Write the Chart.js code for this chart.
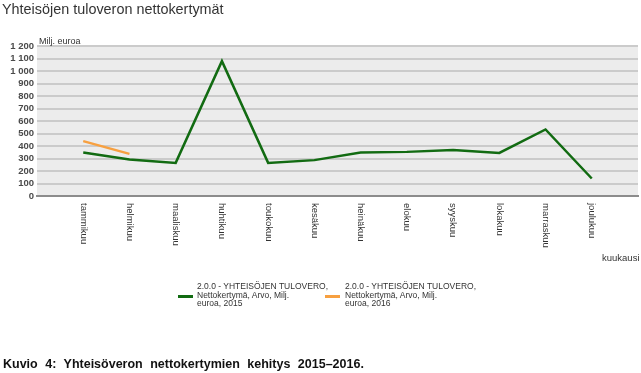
<!DOCTYPE html>
<html>
<head>
<meta charset="utf-8">
<script src="https://cdn.jsdelivr.net/npm/chart.js@4/dist/chart.umd.min.js"></script>
<style>
  html,body{margin:0;padding:0;background:#fff;width:641px;height:373px;overflow:hidden;font-family:"Liberation Sans",Arial,sans-serif;}
  #wrap{position:absolute;left:0;top:0;width:641px;height:373px;}
  #title{position:absolute;left:2px;top:1px;font-size:14.4px;color:#333;white-space:nowrap;}
  #caption{position:absolute;left:3px;top:357px;font-size:12.5px;font-weight:bold;color:#111;white-space:nowrap;word-spacing:4px;}
  #unit{position:absolute;left:39px;top:36px;font-size:9px;color:#333;white-space:nowrap;}
  #xtitle{position:absolute;left:602px;top:252px;font-size:9.5px;color:#333;white-space:nowrap;}
  .leg{position:absolute;top:282px;font-size:8.5px;line-height:8.6px;color:#333;white-space:nowrap;}
  .sym{position:absolute;height:3px;width:15px;top:295px;}
</style>
</head>
<body>
<div id="wrap">
  <canvas id="c" width="641" height="373"></canvas>
  <div id="title">Yhteisöjen tuloveron nettokertymät</div>
  <div id="unit">Milj. euroa</div>
  <div id="xtitle">kuukausi</div>
  <div class="sym" style="left:178px;background:#126b12;"></div>
  <div class="leg" id="leg1" style="left:197px;"></div>
  <div class="sym" style="left:325px;background:#f7a040;"></div>
  <div class="leg" id="leg2" style="left:345px;"></div>
  <div id="caption">Kuvio 4: Yhteisöveron nettokertymien kehitys 2015–2016.</div>
</div>
<script>
const months = ["tammikuu","helmikuu","maaliskuu","huhtikuu","toukokuu","kesäkuu","heinäkuu","elokuu","syyskuu","lokakuu","marraskuu","joulukuu"];
const values2015 = [348, 292, 265, 1079, 265, 287, 348, 353, 367, 345, 532, 140];
const values2016 = [439, 337];
const seriesNames = [
  ["2.0.0 - YHTEISÖJEN TULOVERO,","Nettokertymä, Arvo, Milj.","euroa, 2015"],
  ["2.0.0 - YHTEISÖJEN TULOVERO,","Nettokertymä, Arvo, Milj.","euroa, 2016"]
];
const yTicks = [0,100,200,300,400,500,600,700,800,900,1000,1100,1200];

document.getElementById('leg1').innerHTML = seriesNames[0].join('<br>');
document.getElementById('leg2').innerHTML = seriesNames[1].join('<br>');

// padded category axis: one empty slot before and after the months
const axisLabels = [""].concat(months, [""]);
const pad = arr => [null].concat(months.map((m,i)=> arr[i] === undefined ? null : arr[i]), [null]);

function fmt(v){ return String(v).replace(/\B(?=(\d{3})+(?!\d))/g, ' '); }

const bgPlugin = {
  id:'bg',
  beforeDraw(chart){
    const a = chart.chartArea, ctx = chart.ctx;
    ctx.save(); ctx.fillStyle = '#ececec';
    ctx.fillRect(a.left, a.top, a.right-a.left, a.bottom-a.top);
    ctx.restore();
  }
};
const xLabelPlugin = {
  id:'xlab',
  afterDraw(chart){
    const xs = chart.scales.x, ctx = chart.ctx;
    ctx.save();
    ctx.font = '9.5px "Liberation Sans", Arial, sans-serif';
    ctx.fillStyle = '#333';
    ctx.textAlign = 'left'; ctx.textBaseline = 'middle';
    months.forEach((m,i)=>{
      const x = xs.getPixelForValue(i+1);
      ctx.save();
      ctx.translate(x, chart.chartArea.bottom + 7);
      ctx.rotate(Math.PI/2);
      ctx.fillText(m, 0, 0);
      ctx.restore();
    });
    ctx.restore();
  }
};

new Chart(document.getElementById('c'), {
  type:'line',
  data:{
    labels: axisLabels,
    datasets:[
      {label: seriesNames[0].join(' '), data: pad(values2015), borderColor:'#126b12', borderWidth:2.5, pointRadius:0, tension:0, spanGaps:false},
      {label: seriesNames[1].join(' '), data: pad(values2016), borderColor:'#f7a040', borderWidth:2.5, pointRadius:0, tension:0, spanGaps:false}
    ]
  },
  options:{
    responsive:false, animation:false,
    layout:{padding:{top:46,right:3,left:0,bottom:0}},
    plugins:{legend:{display:false}, tooltip:{enabled:false}},
    scales:{
      x:{
        type:'category', offset:false,
        grid:{color:'rgba(0,0,0,0)', drawTicks:false},
        border:{display:true, color:'#8c8c8c', width:2},
        ticks:{display:false},
        afterFit(s){ s.height = 373-46-150-0; }
      },
      y:{
        min:0, max:1200,
        afterBuildTicks(s){ s.ticks = yTicks.map(v=>({value:v})); },
        grid:{color:'#cbcbcb', lineWidth:2, drawTicks:false},
        border:{display:false},
        ticks:{autoSkip:false, padding:3, color:'#4a4a4a', font:{family:'"Liberation Sans", Arial, sans-serif', size:9.5, weight:'bold'}, callback:v=>fmt(v)},
        afterFit(s){ s.width = 37; }
      }
    }
  },
  plugins:[bgPlugin, xLabelPlugin]
});
</script>
</body>
</html>
